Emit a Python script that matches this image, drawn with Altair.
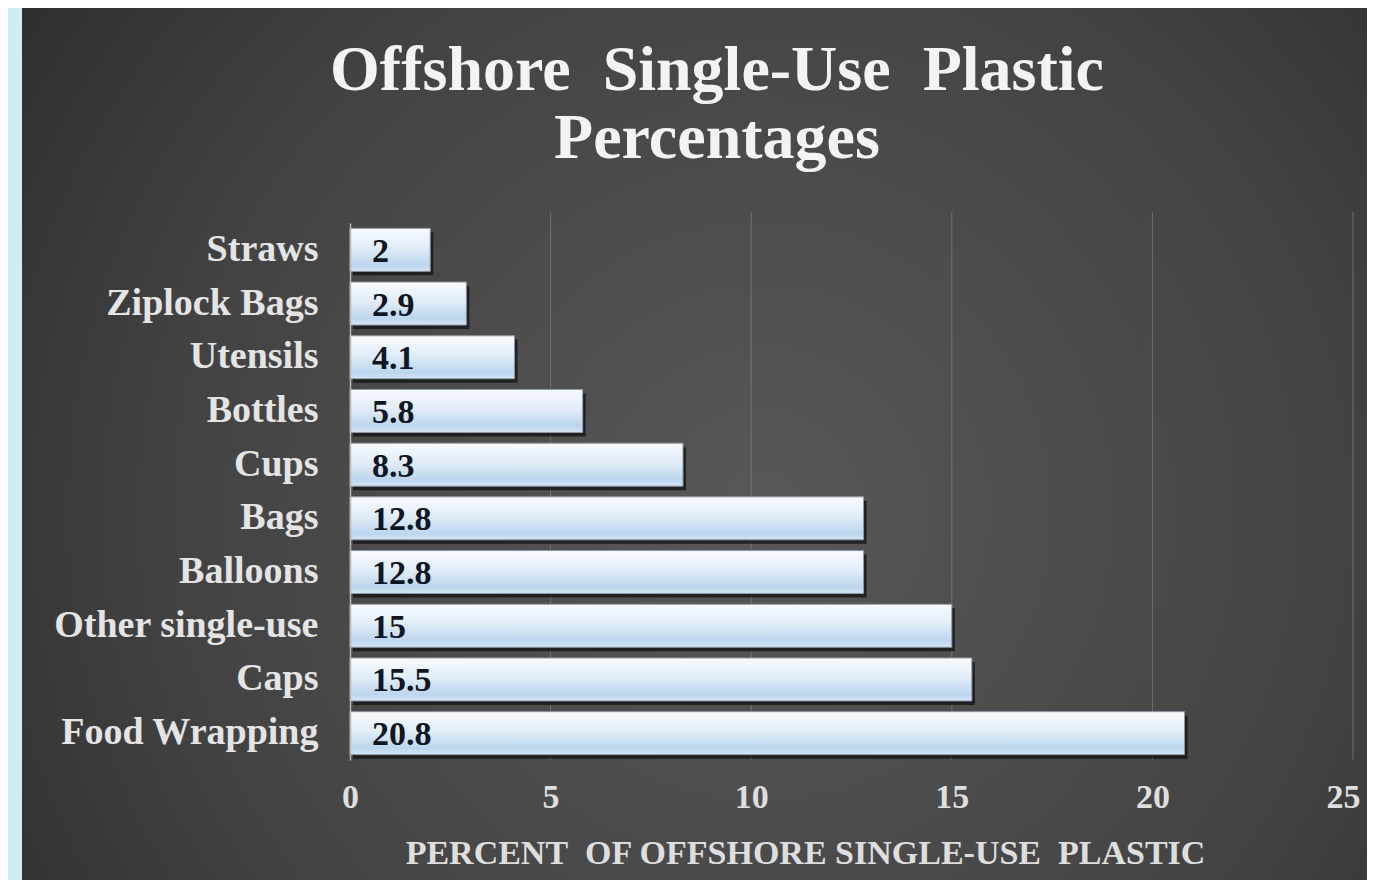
import altair as alt
import pandas as pd

# ---------------- data ----------------
categories = ["Straws", "Ziplock Bags", "Utensils", "Bottles", "Cups",
              "Bags", "Balloons", "Other single-use", "Caps", "Food Wrapping"]
values = [2, 2.9, 4.1, 5.8, 8.3, 12.8, 12.8, 15, 15.5, 20.8]
value_labels = ["2", "2.9", "4.1", "5.8", "8.3", "12.8", "12.8", "15", "15.5", "20.8"]
x_ticks = [0, 5, 10, 15, 20, 25]
grid_ticks = [5, 10, 15, 20, 25]

NB = "\u00a0"
title_line1 = f"Offshore{NB}{NB}Single-Use{NB}{NB}Plastic"
title_line2 = "Percentages"
x_title = f"PERCENT{NB}{NB}OF OFFSHORE SINGLE-USE{NB}{NB}PLASTIC"

df = pd.DataFrame({"category": categories, "value": values, "label": value_labels})
df["zero"] = 0
grid_df = pd.DataFrame({"tick": grid_ticks})
one = pd.DataFrame({"k": [0]})

# ---------------- layout ----------------
W, H = 1003, 537
PAD = {"left": 342, "top": 215, "right": 14, "bottom": 120}
FONT = "Liberation Serif"
LIGHT = "#dedede"

x_axis = alt.Axis(values=x_ticks, grid=False, domain=False, ticks=False, tickSize=0,
                  labelFont=FONT, labelFontWeight="bold", labelFontSize=34,
                  labelColor=LIGHT, labelPadding=20, labelFlush=False,
                  labelOffset=alt.expr("datum.value == 25 ? -10 : 0"),
                  title=x_title, titleFont=FONT, titleFontWeight="bold",
                  titleFontSize=34, titleColor=LIGHT, titleX=455, titleY=103,
                  titleAlign="center", titleBaseline="alphabetic", zindex=1)
y_axis = alt.Axis(title=None, domain=True, domainColor="#b8b8b8", domainWidth=1.5,
                  ticks=False, tickSize=0, grid=False,
                  labelFont=FONT, labelFontWeight="bold", labelFontSize=38,
                  labelColor="#e4e4e4", labelPadding=32, labelLimit=400, zindex=1)

x_scale = alt.Scale(domain=[0, 25], nice=False)
y_scale = alt.Scale(paddingInner=0.2, paddingOuter=0.1)

def X(field):
    return alt.X(f"{field}:Q", scale=x_scale, axis=x_axis, title=x_title)

Y = alt.Y("category:N", sort=categories, scale=y_scale, axis=y_axis)

panel_fill = alt.RadialGradient(
    gradient="radial", x1=0.55, y1=0.55, r1=0, x2=0.55, y2=0.55, r2=0.78,
    stops=[alt.GradientStop(offset=0, color="#585858"),
           alt.GradientStop(offset=0.55, color="#434343"),
           alt.GradientStop(offset=1, color="#252525")])

bar_fill = alt.LinearGradient(
    gradient="linear", x1=0, y1=0, x2=0, y2=1,
    stops=[alt.GradientStop(offset=0, color="#f8fbfe"),
           alt.GradientStop(offset=0.45, color="#e2edf8"),
           alt.GradientStop(offset=0.85, color="#bcd6ef"),
           alt.GradientStop(offset=1, color="#d6e5f4")])

panel = alt.Chart(one).mark_rect(fill=panel_fill).encode(
    x=alt.value(-328), x2=alt.value(W + PAD["right"]),
    y=alt.value(-PAD["top"]), y2=alt.value(H + PAD["bottom"]))

grid = alt.Chart(grid_df).mark_rule(color="#808080", strokeWidth=1, opacity=0.7).encode(
    x=X("tick"), y=alt.value(-11), y2=alt.value(H))

shadow = alt.Chart(df).mark_bar(color="#121212", opacity=0.75, xOffset=3, yOffset=4).encode(
    x=X("value"), y=Y)

bars = alt.Chart(df).mark_bar(fill=bar_fill, stroke="#8e9aa8", strokeWidth=1).encode(
    x=X("value"), y=Y)

labels = alt.Chart(df).mark_text(
    align="left", baseline="middle", dx=22, dy=2, font=FONT, fontWeight="bold",
    fontSize=34, color="#0f1724").encode(
    x=X("zero"), y=Y, text="label:N")

title1 = alt.Chart(one).mark_text(
    text=title_line1, align="center", baseline="alphabetic", font=FONT,
    fontWeight="bold", fontSize=64, color="#f3f3f3").encode(
    x=alt.value(367), y=alt.value(-133))

title2 = alt.Chart(one).mark_text(
    text=title_line2, align="center", baseline="alphabetic", font=FONT,
    fontWeight="bold", fontSize=64, color="#f3f3f3").encode(
    x=alt.value(367), y=alt.value(-65))

chart = alt.layer(panel, grid, shadow, bars, labels, title1, title2).properties(
    width=W, height=H, padding=PAD,
    autosize=alt.AutoSizeParams(type="none"),
    background="#d1ecf2",
).configure_view(stroke=None)

chart.save("out.html", embed_options={"renderer": "svg", "actions": False})
